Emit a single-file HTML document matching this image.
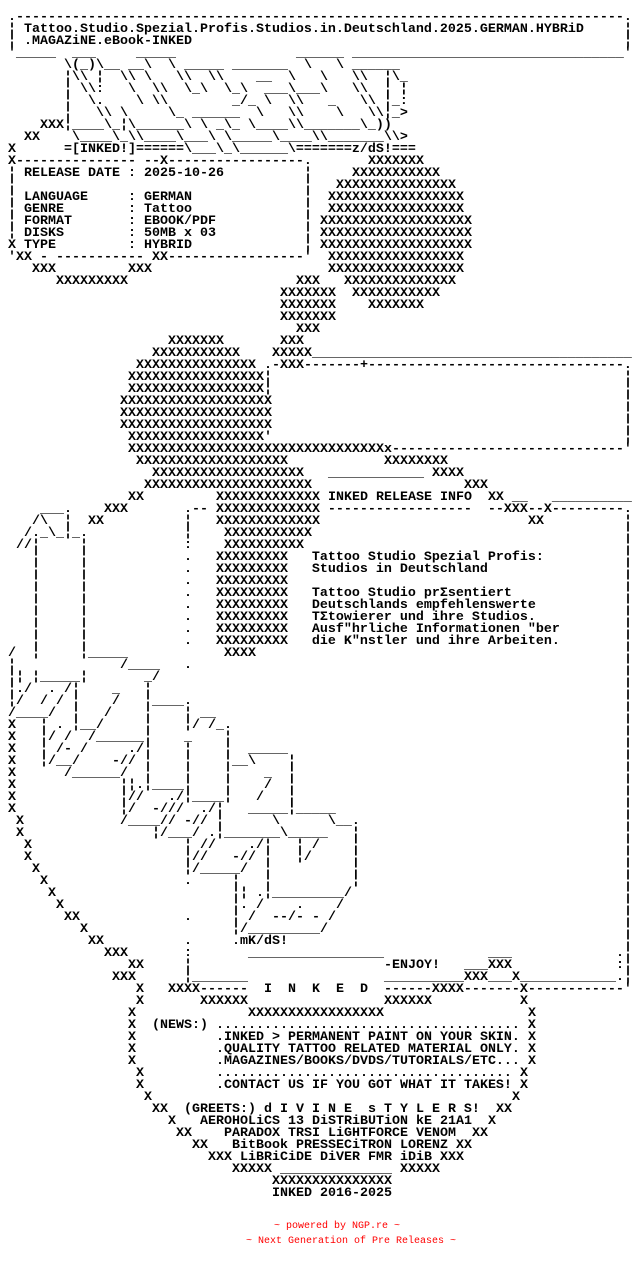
<!DOCTYPE html>
<html><head><meta charset="utf-8">
<style>
html,body{margin:0;padding:0;background:#fff;}
body{width:640px;height:1272px;position:relative;overflow:hidden;font-family:"Liberation Mono",monospace;font-weight:bold;font-size:13.33px;line-height:12px;color:#000;}
p{position:absolute;margin:0;white-space:pre;}
.r{color:#f00;font-weight:normal;font-size:10px;line-height:12px;}
</style></head><body>
<p style="top:12px;left:8px">.----------------------------------------------------------------------------.</p>
<p style="top:24px;left:8px">¦ Tattoo.Studio.Spezial.Profis.Studios.in.Deutschland.2025.GERMAN.HYBRiD</p>
<p style="top:24px;left:624px">¦</p>
<p style="top:36px;left:8px">¦ .MAGAZiNE.eBook-INKED</p>
<p style="top:36px;left:624px">¦</p>
<p style="top:48px;left:8px">'_____  ___     _____</p>
<p style="top:48px;left:296px">______ __________________________________'</p>
<p style="top:60px;left:64px">\(_)\__ __\  \ _____ _______  \   \ ______</p>
<p style="top:72px;left:64px">¦\\ ¦  \\ \   \\  \\    __  \   \   \\  ¦\_</p>
<p style="top:84px;left:64px">¦ \\:   \  \\  \_\  \_\  ___\___\   \\  ¦ ¦</p>
<p style="top:96px;left:64px">¦  \.    \ \\        _/_ \  \\   _   \\ ¦_:</p>
<p style="top:108px;left:64px">¦   \\ \     \_ ______  \   \\    \   \\¦_&gt;</p>
<p style="top:120px;left:40px">XXX¦____\_¦\______\ \ _\_ \____\\_______\_))</p>
<p style="top:132px;left:24px">XX    \____\_\\____\___\ \_____\____\\_______\\&gt;</p>
<p style="top:144px;left:8px">X      =[INKED!]======\___\_\______\=======z/dS!===</p>
<p style="top:156px;left:8px">X--------------- --X-----------------.</p>
<p style="top:156px;left:368px">XXXXXXX</p>
<p style="top:168px;left:8px">¦ RELEASE DATE : 2025-10-26</p>
<p style="top:168px;left:304px">¦</p><p style="top:168px;left:352px">XXXXXXXXXXX</p>
<p style="top:180px;left:8px">¦</p>
<p style="top:180px;left:304px">¦</p><p style="top:180px;left:336px">XXXXXXXXXXXXXXX</p>
<p style="top:192px;left:8px">¦ LANGUAGE     : GERMAN</p>
<p style="top:192px;left:304px">¦</p><p style="top:192px;left:328px">XXXXXXXXXXXXXXXXX</p>
<p style="top:204px;left:8px">¦ GENRE        : Tattoo</p>
<p style="top:204px;left:304px">¦</p><p style="top:204px;left:328px">XXXXXXXXXXXXXXXXX</p>
<p style="top:216px;left:8px">¦ FORMAT       : EBOOK/PDF</p>
<p style="top:216px;left:304px">¦</p><p style="top:216px;left:320px">XXXXXXXXXXXXXXXXXXX</p>
<p style="top:228px;left:8px">¦ DISKS        : 50MB x 03</p>
<p style="top:228px;left:304px">¦</p><p style="top:228px;left:320px">XXXXXXXXXXXXXXXXXXX</p>
<p style="top:240px;left:8px">X TYPE         : HYBRID</p>
<p style="top:240px;left:304px">¦</p><p style="top:240px;left:320px">XXXXXXXXXXXXXXXXXXX</p>
<p style="top:252px;left:8px">'XX - ----------- XX-----------------'</p>
<p style="top:252px;left:328px">XXXXXXXXXXXXXXXXX</p>
<p style="top:264px;left:32px">XXX         XXX</p>
<p style="top:264px;left:328px">XXXXXXXXXXXXXXXXX</p>
<p style="top:276px;left:56px">XXXXXXXXX</p>
<p style="top:276px;left:296px">XXX</p><p style="top:276px;left:344px">XXXXXXXXXXXXXX</p>
<p style="top:288px;left:280px">XXXXXXX</p><p style="top:288px;left:352px">XXXXXXXXXXX</p>
<p style="top:300px;left:280px">XXXXXXX</p><p style="top:300px;left:368px">XXXXXXX</p>
<p style="top:312px;left:280px">XXXXXXX</p>
<p style="top:324px;left:296px">XXX</p>
<p style="top:336px;left:168px">XXXXXXX</p><p style="top:336px;left:280px">XXX</p>
<p style="top:348px;left:152px">XXXXXXXXXXX</p>
<p style="top:348px;left:272px">XXXXX________________________________________</p>
<p style="top:360px;left:136px">XXXXXXXXXXXXXXX</p>
<p style="top:360px;left:264px">.-XXX-------+--------------------------------.</p>
<p style="top:372px;left:128px">XXXXXXXXXXXXXXXXX¦</p>
<p style="top:384px;left:128px">XXXXXXXXXXXXXXXXX¦</p>
<p style="top:396px;left:120px">XXXXXXXXXXXXXXXXXXX</p>
<p style="top:408px;left:120px">XXXXXXXXXXXXXXXXXXX</p>
<p style="top:420px;left:120px">XXXXXXXXXXXXXXXXXXX</p>
<p style="top:432px;left:128px">XXXXXXXXXXXXXXXXX'</p>
<p style="top:372px;left:624px">¦
¦
¦
¦
¦
¦</p>
<p style="top:444px;left:128px">XXXXXXXXXXXXXXXXXXXXXXXXXXXXXXXXx-----------------------------'</p>
<p style="top:456px;left:136px">XXXXXXXXXXXXXXXXXXX</p><p style="top:456px;left:384px">XXXXXXXX</p>
<p style="top:468px;left:152px">XXXXXXXXXXXXXXXXXXX</p><p style="top:468px;left:328px">____________ XXXX</p>
<p style="top:480px;left:144px">XXXXXXXXXXXXXXXXXXXXX</p><p style="top:480px;left:464px">XXX</p>
<p style="top:492px;left:128px">XX</p>
<p style="top:492px;left:216px">XXXXXXXXXXXXX INKED RELEASE INFO  XX __   __________</p>
<p style="top:504px;left:40px">___.    XXX       .-- XXXXXXXXXXXXX ------------------  --XXX--X---------.</p>
<p style="top:516px;left:32px">/\  ¦  XX</p>
<p style="top:516px;left:184px">¦   XXXXXXXXXXXXX</p><p style="top:516px;left:528px">XX</p>
<p style="top:528px;left:24px">/._\_¦_.</p>
<p style="top:528px;left:184px">¦    XXXXXXXXXXX</p>
<p style="top:540px;left:16px">//¦     ¦</p>
<p style="top:540px;left:184px">:    XXXXXXXXXX</p>
<p style="top:552px;left:32px">¦     ¦            .   XXXXXXXXX   Tattoo Studio Spezial Profis:</p>
<p style="top:564px;left:32px">¦     ¦            .   XXXXXXXXX   Studios in Deutschland</p>
<p style="top:576px;left:32px">¦     ¦            .   XXXXXXXXX</p>
<p style="top:588px;left:32px">¦     ¦            .   XXXXXXXXX   Tattoo Studio prΣsentiert</p>
<p style="top:600px;left:32px">¦     ¦            .   XXXXXXXXX   Deutschlands empfehlenswerte</p>
<p style="top:612px;left:32px">¦     ¦            .   XXXXXXXXX   TΣtowierer und ihre Studios.</p>
<p style="top:624px;left:32px">¦     ¦            .   XXXXXXXXX   Ausf"hrliche Informationen "ber</p>
<p style="top:636px;left:32px">¦     ¦            .   XXXXXXXXX   die K"nstler und ihre Arbeiten.</p>
<p style="top:648px;left:8px">/  ¦     ¦_____</p><p style="top:648px;left:224px">XXXX</p>
<p style="top:660px;left:8px">¦             /____   .</p>
<p style="top:672px;left:8px">¦¦ ¦_____¦       _/</p>
<p style="top:684px;left:8px">¦./  . /¦    _   ¦</p>
<p style="top:696px;left:8px">¦/  / / ¦    /   ¦____.</p>
<p style="top:708px;left:8px">/____/  ¦   /    ¦    ¦ __</p>
<p style="top:720px;left:8px">X   ¦ . ¦__/     ¦    ¦/ /_.</p>
<p style="top:732px;left:8px">X   ¦/ /  /______¦    _    ¦</p>
<p style="top:744px;left:8px">X   ¦ /- /     ./¦    ¦    ¦  _____</p>
<p style="top:756px;left:8px">X   ¦/__/    -// ¦    ¦    ¦__\    ¦</p>
<p style="top:768px;left:8px">X      /______/  ¦    ¦    ¦    _  ¦</p>
<p style="top:780px;left:8px">X             ¦¦.¦____¦    ¦    /  ¦</p>
<p style="top:792px;left:8px">X             ¦//   ./¦____¦   /   ¦</p>
<p style="top:804px;left:8px">X             ¦/  -///  ./¦   _____¦_____</p>
<p style="top:816px;left:16px">X            /____// -// ¦      \      \__.</p>
<p style="top:828px;left:16px">X                ¦/___/ .¦_______\_____   ¦</p>
<p style="top:840px;left:24px">X                   ¦ //    ./¦   ¦ /    ¦</p>
<p style="top:852px;left:24px">X                   ¦//   -// ¦   ¦/     ¦</p>
<p style="top:864px;left:32px">X                  ¦/_____/  ¦          ¦</p>
<p style="top:876px;left:40px">X                 .     ¦   ¦          ¦</p>
<p style="top:888px;left:48px">X</p><p style="top:888px;left:232px">¦¦ .¦_________/</p>
<p style="top:900px;left:56px">X</p><p style="top:900px;left:232px">¦. /    .    /</p>
<p style="top:912px;left:64px">XX</p><p style="top:912px;left:184px">.</p><p style="top:912px;left:232px">¦ /  --/- - /</p>
<p style="top:924px;left:80px">X</p><p style="top:924px;left:232px">¦/_________/</p>
<p style="top:936px;left:88px">XX</p><p style="top:936px;left:184px">.</p><p style="top:936px;left:232px">.mK/dS!</p>
<p style="top:516px;left:624px">¦
¦
¦
¦
¦
¦
¦
¦
¦
¦
¦
¦
¦
¦
¦
¦
¦
¦
¦
¦
¦
¦
¦
¦
¦
¦
¦
¦
¦
¦
¦
¦
¦
¦
¦
¦</p>
<p style="top:948px;left:104px">XXX</p><p style="top:948px;left:184px">:</p>
<p style="top:948px;left:248px">_________________</p><p style="top:948px;left:488px">___</p><p style="top:948px;left:616px">.¦</p>
<p style="top:960px;left:128px">XX</p><p style="top:960px;left:184px">¦</p>
<p style="top:960px;left:384px">-ENJOY!   ___XXX</p><p style="top:960px;left:616px">:¦</p>
<p style="top:972px;left:112px">XXX</p><p style="top:972px;left:184px">¦_______</p>
<p style="top:972px;left:384px">__________XXX___X____________.¦</p>
<p style="top:984px;left:136px">X   XXXX------  I  N  K  E  D  ------XXXX-------X------------'</p>
<p style="top:996px;left:136px">X       XXXXXX</p><p style="top:996px;left:384px">XXXXXX</p><p style="top:996px;left:520px">X</p>
<p style="top:1008px;left:128px">X</p><p style="top:1008px;left:248px">XXXXXXXXXXXXXXXXX</p><p style="top:1008px;left:528px">X</p>
<p style="top:1020px;left:128px">X  (NEWS:) ...................................... X</p>
<p style="top:1032px;left:128px">X</p><p style="top:1032px;left:216px">.INKED &gt; PERMANENT PAINT ON YOUR SKIN.</p><p style="top:1032px;left:528px">X</p>
<p style="top:1044px;left:128px">X</p><p style="top:1044px;left:216px">.QUALITY TATTOO RELATED MATERIAL ONLY.</p><p style="top:1044px;left:528px">X</p>
<p style="top:1056px;left:128px">X</p><p style="top:1056px;left:216px">.MAGAZINES/BOOKS/DVDS/TUTORIALS/ETC...</p><p style="top:1056px;left:528px">X</p>
<p style="top:1068px;left:136px">X</p><p style="top:1068px;left:216px">.....................................</p><p style="top:1068px;left:520px">X</p>
<p style="top:1080px;left:136px">X</p><p style="top:1080px;left:216px">.CONTACT US IF YOU GOT WHAT IT TAKES!</p><p style="top:1080px;left:520px">X</p>
<p style="top:1092px;left:144px">X</p><p style="top:1092px;left:512px">X</p>
<p style="top:1104px;left:152px">XX</p><p style="top:1104px;left:184px">(GREETS:) d I V I N E  s T Y L E R S!</p><p style="top:1104px;left:496px">XX</p>
<p style="top:1116px;left:168px">X</p><p style="top:1116px;left:200px">AEROHOLiCS 13 DiSTRiBUTiON kE 21A1</p><p style="top:1116px;left:488px">X</p>
<p style="top:1128px;left:176px">XX</p><p style="top:1128px;left:224px">PARADOX TRSI LiGHTFORCE VENOM</p><p style="top:1128px;left:472px">XX</p>
<p style="top:1140px;left:192px">XX</p><p style="top:1140px;left:232px">BitBook PRESSECiTRON LORENZ XX</p>
<p style="top:1152px;left:208px">XXX LiBRiCiDE DiVER FMR iDiB XXX</p>
<p style="top:1164px;left:232px">XXXXX ______________ XXXXX</p>
<p style="top:1176px;left:272px">XXXXXXXXXXXXXXX</p>
<p style="top:1188px;left:272px">INKED 2016-2025</p>
<p class="r" style="top:1221px;left:274px">~ powered by NGP.re ~</p>
<p class="r" style="top:1236px;left:246px">~ Next Generation of Pre Releases ~</p>
</body></html>
